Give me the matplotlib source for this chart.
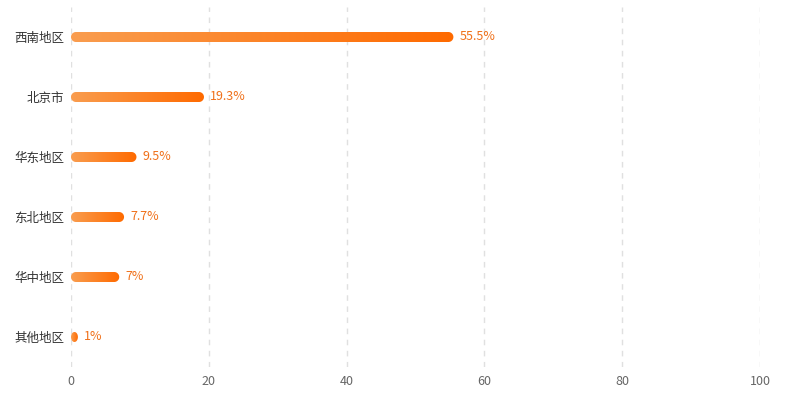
import numpy as np
import matplotlib
matplotlib.use("Agg")
import matplotlib.pyplot as plt
from matplotlib.path import Path
from matplotlib.patches import PathPatch
from matplotlib.colors import LinearSegmentedColormap

categories = ["西南地区", "北京市", "华东地区", "东北地区", "华中地区", "其他地区"]
values = [55.5, 19.3, 9.5, 7.7, 7, 1]
labels = ["55.5%", "19.3%", "9.5%", "7.7%", "7%", "1%"]
xticks = [0, 20, 40, 60, 80, 100]

plt.rcParams['font.family'] = ['Noto Sans CJK SC', 'DejaVu Sans']

W, H = 789, 399
fig = plt.figure(figsize=(W / 100, H / 100), dpi=100)
left, right, top, bottom = 71, 760, 7, 367
ax = fig.add_axes([left / W, (H - bottom) / H, (right - left) / W, (bottom - top) / H])
ax.set_xlim(0, 100)
n = len(categories)
ax.set_ylim(n - 0.5, -0.5)

px_per_x = (right - left) / 100.0
px_per_y = (bottom - top) / n
bar_px = 10.0
hh = bar_px / 2 / px_per_y  # half height in data units
rad_x_full = (bar_px / 2) / px_per_x

cmap = LinearSegmentedColormap.from_list("og", ["#f99d4f", "#ff6a00"])
grad = np.linspace(0, 1, 256).reshape(1, -1)

for i, (v, lab) in enumerate(zip(values, labels)):
    rx = min(rad_x_full, v / 2)
    t = np.linspace(-np.pi / 2, np.pi / 2, 30)
    xr = v - rx + rx * np.cos(t)
    yr = i + hh * np.sin(t)
    t2 = np.linspace(np.pi / 2, 3 * np.pi / 2, 30)
    xl = rx + rx * np.cos(t2)
    yl = i + hh * np.sin(t2)
    verts = np.column_stack([np.concatenate([xr, xl]), np.concatenate([yr, yl])])
    verts = np.vstack([verts, verts[:1]])
    codes = [Path.MOVETO] + [Path.LINETO] * (len(verts) - 2) + [Path.CLOSEPOLY]
    patch = PathPatch(Path(verts, codes), facecolor="none", edgecolor="none")
    ax.add_patch(patch)
    im = ax.imshow(grad, cmap=cmap, aspect="auto", extent=[0, v, i + hh, i - hh],
                   interpolation="bicubic", zorder=3)
    im.set_clip_path(patch)
    ax.text(v + 6 / px_per_x, i, lab, color="#f07019", fontsize=9,
            va="center", ha="left", zorder=4)

ax.set_xlim(0, 100)
ax.set_ylim(n - 0.5, -0.5)
ax.set_yticks(range(n))
ax.set_yticklabels(categories, fontsize=9, color="#333333")
ax.set_xticks(xticks)
ax.set_xticklabels([str(x) for x in xticks], fontsize=9, color="#666666")
ax.tick_params(axis="both", length=0)
ax.tick_params(axis="y", pad=5)
ax.tick_params(axis="x", pad=6)
for s in ax.spines.values():
    s.set_visible(False)
ax.grid(axis="x", color="#e0e0e0", linestyle=(0, (4, 4)), linewidth=1)
ax.set_axisbelow(True)

fig.savefig("out.png", dpi=100)
